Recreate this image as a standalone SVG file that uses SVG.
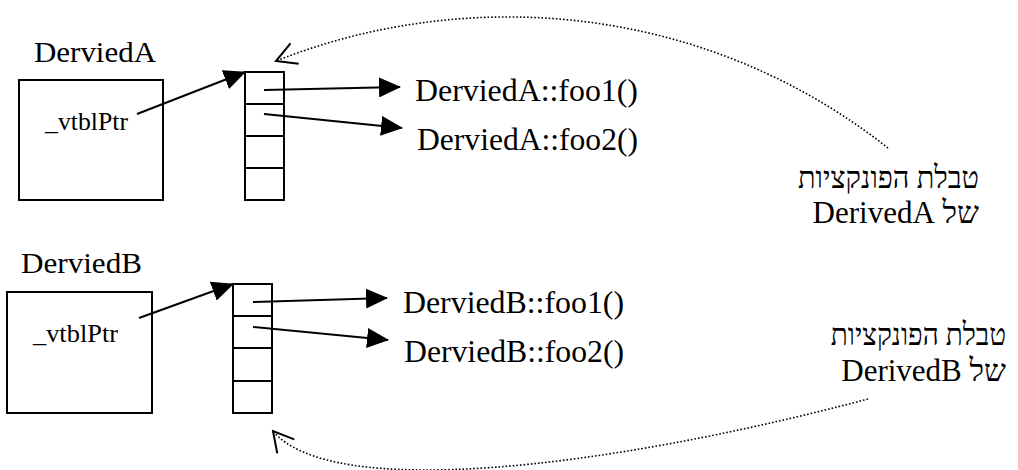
<svg xmlns="http://www.w3.org/2000/svg" width="1018" height="470" viewBox="0 0 1018 470">
  <style>
    .box { fill: #fff; stroke: #000; stroke-width: 2; }
    .cell { fill: none; stroke: #000; stroke-width: 2; }
    .ptr { fill: none; stroke: #000; stroke-width: 2; marker-end: url(#solidHead); }
    .ref { fill: none; stroke: #000; stroke-width: 1.6; stroke-dasharray: 1.6 2; marker-end: url(#openHead); }
    text { font-family: "Liberation Serif", "DejaVu Serif", serif; fill: #000; }
    .title { font-size: 30px; }
    .field { font-size: 25px; }
    .fn { font-size: 31px; }
    .note { font-size: 31px; }
    .he { text-anchor: end; }
  </style>
  <defs>
    <marker id="solidHead" markerUnits="userSpaceOnUse" markerWidth="22" markerHeight="20" refX="21" refY="10" orient="auto" viewBox="0 0 22 20">
      <path d="M0,0 L22,10 L0,20 z" fill="#000"/>
    </marker>
    <marker id="openHead" markerUnits="userSpaceOnUse" markerWidth="26" markerHeight="26" refX="24" refY="13" orient="auto" viewBox="0 0 26 26">
      <path d="M4,2 L24,13 L4,24" fill="none" stroke="#000" stroke-width="2"/>
    </marker>
  </defs>

  <!-- object A -->
  <g id="objA">
    <text class="title" x="34" y="62" textLength="122" lengthAdjust="spacingAndGlyphs">DerviedA</text>
    <rect class="box" x="19" y="80" width="144" height="120"/>
    <text class="field" x="45" y="130" textLength="83" lengthAdjust="spacingAndGlyphs">_vtblPtr</text>
  </g>

  <!-- vtable A -->
  <g id="vtblA">
    <rect class="cell" x="245" y="72" width="39" height="128"/>
    <path class="cell" d="M245,104 H284 M245,136 H284 M245,168 H284"/>
  </g>

  <g id="fnA">
    <text class="fn" x="415" y="101" textLength="223" lengthAdjust="spacingAndGlyphs">DerviedA::foo1()</text>
    <text class="fn" x="417" y="150" textLength="221" lengthAdjust="spacingAndGlyphs">DerviedA::foo2()</text>
  </g>

  <g id="noteA">
    <text class="note he" transform="translate(979,188) scale(0.93,1)">טבלת הפונקציות</text>
    <text class="note" x="979" y="223" direction="rtl" text-anchor="start">של DerivedA</text>
  </g>

  <!-- object B -->
  <g id="objB">
    <text class="title" x="21" y="273" textLength="121" lengthAdjust="spacingAndGlyphs">DerviedB</text>
    <rect class="box" x="7" y="292" width="145" height="121"/>
    <text class="field" x="33" y="342" textLength="85" lengthAdjust="spacingAndGlyphs">_vtblPtr</text>
  </g>

  <!-- vtable B -->
  <g id="vtblB">
    <rect class="cell" x="233" y="284" width="39" height="129"/>
    <path class="cell" d="M233,316 H272 M233,348 H272 M233,381 H272"/>
  </g>

  <g id="fnB">
    <text class="fn" x="403" y="313" textLength="221" lengthAdjust="spacingAndGlyphs">DerviedB::foo1()</text>
    <text class="fn" x="404" y="362" textLength="220" lengthAdjust="spacingAndGlyphs">DerviedB::foo2()</text>
  </g>

  <g id="noteB">
    <text class="note he" transform="translate(1006,345) scale(0.9,1)">טבלת הפונקציות</text>
    <text class="note" x="1006" y="381" direction="rtl" text-anchor="start">של DerivedB</text>
  </g>

  <!-- connectors -->
  <g id="connectors">
    <path class="ptr" d="M137,114 L245,72"/>
    <path class="ptr" d="M264,90 L400,87"/>
    <path class="ptr" d="M264,114 L402,128"/>
    <path class="ptr" d="M139,318 L233,284"/>
    <path class="ptr" d="M253,302 L387,298"/>
    <path class="ptr" d="M253,327 L388,340"/>
    <path class="ref" d="M888,148 C700,0 462,-13 276,61"/>
    <path class="ref" d="M868,399 C600,470 330,500 273,431"/>
  </g>
</svg>
